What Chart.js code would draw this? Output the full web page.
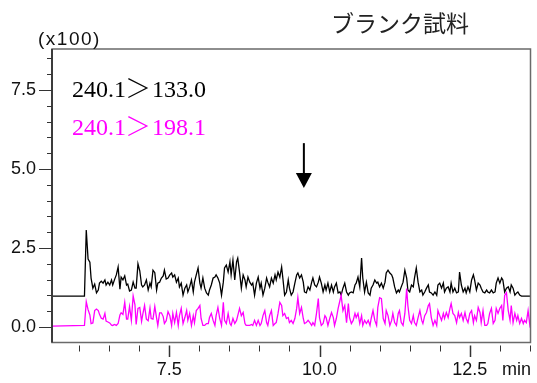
<!DOCTYPE html>
<html>
<head>
<meta charset="utf-8">
<script src="https://cdn.jsdelivr.net/npm/chart.js@4/dist/chart.umd.min.js"></script>
<style>
  body { margin: 0; background: #fff; }
  canvas { display: block; }
</style>
</head>
<body>
<canvas id="myChart" width="537" height="383"></canvas>
<script>
// retention time (min), one scan every ~1.66 s
let retentionTimes = [5.55,
  6.09,6.12,6.15,6.18,6.20,6.23,6.26,6.29,6.32,6.34,6.37,6.40,6.43,6.45,6.48,6.51,6.54,6.56,6.59,6.62,6.65,6.68,6.70,6.73,6.76,6.79,6.81,6.84,6.87,6.90,6.93,6.95,6.98,7.01,7.04,7.06,
  7.09,7.12,7.15,7.18,7.20,7.23,7.26,7.29,7.31,7.34,7.37,7.40,7.42,7.45,7.48,7.51,7.54,7.56,7.59,7.62,7.65,7.67,7.70,7.73,7.76,7.79,7.81,7.84,7.87,7.90,7.92,7.95,7.98,8.01,8.03,8.06,
  8.09,8.12,8.15,8.17,8.20,8.23,8.26,8.28,8.31,8.34,8.37,8.40,8.42,8.45,8.48,8.51,8.53,8.56,8.59,8.62,8.64,8.67,8.70,8.73,8.76,8.78,8.81,8.84,8.87,8.89,8.92,8.95,8.98,9.01,9.03,9.06,
  9.09,9.12,9.14,9.17,9.20,9.23,9.26,9.28,9.31,9.34,9.37,9.39,9.42,9.45,9.48,9.50,9.53,9.56,9.59,9.62,9.64,9.67,9.70,9.73,9.75,9.78,9.81,9.84,9.87,9.89,9.92,9.95,9.98,10.00,10.03,10.06,
  10.09,10.11,10.14,10.17,10.20,10.23,10.25,10.28,10.31,10.34,10.36,10.39,10.42,10.45,10.48,10.50,10.53,10.56,10.59,10.61,10.64,10.67,10.70,10.72,10.75,10.78,10.81,10.84,10.86,10.89,10.92,10.95,10.97,11.00,11.03,11.06,
  11.09,11.11,11.14,11.17,11.20,11.22,11.25,11.28,11.31,11.33,11.36,11.39,11.42,11.45,11.47,11.50,11.53,11.56,11.58,11.61,11.64,11.67,11.70,11.72,11.75,11.78,11.81,11.83,11.86,11.89,11.92,11.95,11.97,12.00,12.03,12.06,
  12.08,12.11,12.14,12.17,12.19,12.22,12.25,12.28,12.31,12.33,12.36,12.39,12.42,12.44,12.47,12.50,12.53,12.56,12.58,12.61,12.64,12.67,12.69,12.72,12.75,12.78,12.80,12.83,12.86,12.89,12.92,12.94,12.97,13.00,13.03,13.05,
  13.08,13.11,13.14,13.17,13.19,13.22,13.25,13.28,13.30,13.33,13.36,13.39,13.41,13.44,13.47,13.50,13.53];

// 240.1>133.0 (black), intensity x100
let trace133 = [0.98,
  0.98,3.07,2.15,2.05,1.55,1.23,1.36,1.08,1.17,1.39,1.45,1.39,1.49,1.33,1.42,1.33,1.49,1.33,1.50,1.65,1.90,1.20,1.58,1.49,1.62,1.33,1.36,1.14,1.17,1.42,1.23,1.23,2.00,1.78,1.33,1.27,1.33,1.49,1.17,1.39,1.27,1.80,1.72,1.17,1.39,1.42,1.55,1.62,1.80,1.52,
  1.55,1.65,1.71,1.58,1.65,1.42,1.55,1.27,1.39,1.01,1.23,1.33,1.11,1.27,1.49,1.11,1.42,1.65,1.87,1.39,1.23,1.55,1.23,1.08,1.01,1.17,1.33,1.55,1.58,1.65,1.55,1.39,1.01,1.42,1.87,1.96,1.74,2.06,1.65,2.12,1.49,2.06,2.18,1.74,1.23,1.65,1.49,1.27,1.58,1.42,1.33,1.39,1.01,1.39,
  1.58,1.23,1.39,1.01,1.23,1.55,1.42,1.27,1.55,1.39,1.65,1.49,1.74,1.58,1.90,1.55,1.01,1.11,1.49,1.23,1.01,1.11,1.39,1.65,1.71,1.55,1.65,1.42,1.11,1.08,1.27,1.17,1.42,1.55,1.33,1.27,1.42,1.58,1.39,1.11,1.33,1.17,1.39,1.11,1.33,1.11,1.27,1.39,1.08,1.11,1.01,1.23,1.39,1.11,
  1.01,1.08,1.11,1.08,1.33,1.39,1.58,1.27,2.18,1.55,1.11,1.42,1.08,1.01,1.23,1.33,1.49,1.39,1.42,1.27,1.39,1.23,1.42,1.71,1.80,1.71,1.65,1.55,1.27,1.08,1.17,1.11,1.27,1.42,1.80,1.55,1.17,1.11,1.33,1.27,1.55,1.87,1.42,1.11,1.17,1.01,1.11,1.23,1.33,1.11,1.08,1.01,1.11,1.01,
  1.33,1.39,1.23,1.39,1.11,1.23,1.27,1.11,1.39,1.11,1.23,1.08,1.11,1.74,1.33,1.11,1.23,1.08,1.27,1.11,1.49,1.65,1.49,1.17,1.39,1.33,1.23,1.11,1.08,1.17,1.11,1.08,1.17,1.08,1.11,1.39,1.55,1.39,1.55,1.49,1.11,1.23,1.27,1.11,1.33,1.23,1.01,1.08,1.11,1.01,0.98,0.98,0.98,0.98,0.98,0.98,0.98];

// 240.1>198.1 (magenta), intensity x100
let trace198 = [0.03,
  0.05,0.80,0.55,0.38,0.11,0.13,0.52,0.57,0.52,0.40,0.28,0.25,0.43,0.19,0.16,0.13,0.06,0.05,0.08,0.05,0.11,0.38,0.45,0.40,0.78,0.25,0.25,0.65,0.21,0.98,0.70,0.08,0.59,0.62,0.18,0.40,0.68,0.25,0.20,0.60,0.27,0.25,0.65,0.28,0.05,0.45,0.45,0.33,0.11,0.20,
  0.49,0.36,0.05,0.43,0.14,0.46,0.05,0.36,0.59,0.11,0.30,0.52,0.21,0.43,0.05,0.36,0.14,0.52,0.59,0.68,0.27,0.05,0.05,0.11,0.11,0.30,0.43,0.21,0.05,0.36,0.62,0.27,0.05,0.78,0.21,0.11,0.43,0.11,0.05,0.27,0.11,0.21,0.36,0.59,0.36,0.46,0.11,0.05,0.05,0.05,0.08,0.05,0.21,0.05,
  0.21,0.05,0.11,0.36,0.52,0.14,0.05,0.36,0.52,0.05,0.11,0.14,0.43,0.78,0.68,0.36,0.43,0.27,0.30,0.14,0.21,0.11,0.27,0.59,0.93,0.43,0.62,0.27,0.11,0.14,0.21,0.14,0.05,0.14,0.05,0.43,0.90,0.30,0.05,0.11,0.36,0.30,0.05,0.27,0.46,0.30,0.05,0.27,0.59,0.84,1.00,0.52,0.68,0.14,
  0.74,0.30,0.11,0.21,0.43,0.30,0.43,0.11,0.36,0.05,0.21,0.11,0.21,0.05,0.27,0.52,0.21,0.05,0.62,0.93,0.90,0.27,0.11,0.52,0.36,0.05,0.21,0.43,0.14,0.05,0.43,0.52,0.14,0.05,0.43,1.22,0.68,0.21,0.11,0.36,0.14,0.05,0.30,0.52,0.21,0.11,0.36,0.46,0.68,0.74,0.30,0.05,0.21,0.05,
  0.52,0.36,0.21,0.43,0.27,0.46,0.30,0.59,0.74,0.43,0.36,0.14,0.46,0.30,0.43,0.21,0.46,0.27,0.14,0.43,0.52,0.14,0.36,0.21,0.62,0.46,0.14,0.52,0.05,0.05,0.11,0.43,0.59,0.11,0.21,0.59,0.43,0.59,0.68,0.21,1.00,1.09,0.52,0.21,0.68,0.14,0.43,0.21,0.36,0.11,0.27,0.11,0.21,0.14,0.52,0.05,0.21];

let xMajorTicks = [7.5, 10.0, 12.5];
let yMajorTicks = [0.0, 2.5, 5.0, 7.5];
let ionLabels = [['240.1', '＞', '133.0'], ['240.1', '＞', '198.1']];
let ionColors = ['#000000', '#ff00ff'];
let chartTitle = 'ブランク試料';
let arrowTime = 9.74; // marked retention time

function isMajor(list, v) {
  return list.some(m => Math.abs(m - v) < 1e-6);
}

function toPoints(values) {
  let arr = [];
  for (let i = 0; i < retentionTimes.length; i++) {
    arr.push({ x: retentionTimes[i], y: values[i] });
  }
  return arr;
}

// box, tick marks, and the annotations
const decorations = {
  id: 'decorations',
  afterDraw(chart) {
    const { ctx, chartArea: a, scales } = chart;
    const x = scales.x, y = scales.y;
    ctx.save();

    ctx.strokeStyle = '#6a6a6a';
    ctx.lineWidth = 1.5;
    ctx.strokeRect(a.left, a.top, a.right - a.left, a.bottom - a.top);
    ctx.strokeStyle = '#333';
    ctx.lineWidth = 1.8;
    ctx.beginPath();
    ctx.moveTo(a.left, a.top);
    ctx.lineTo(a.left, a.bottom);
    ctx.stroke();

    ctx.strokeStyle = '#333';
    x.ticks.forEach(t => {
      let major = isMajor(xMajorTicks, t.value);
      let px = Math.round(x.getPixelForValue(t.value)) + 0.5;
      ctx.lineWidth = major ? 1.5 : 1;
      ctx.beginPath();
      ctx.moveTo(px, a.bottom + 3);
      ctx.lineTo(px, a.bottom + (major ? 14.5 : 9));
      ctx.stroke();
    });
    y.ticks.forEach(t => {
      let major = isMajor(yMajorTicks, t.value);
      let py = Math.round(y.getPixelForValue(t.value)) + 0.5;
      ctx.lineWidth = 1;
      ctx.beginPath();
      ctx.moveTo(a.left, py);
      ctx.lineTo(a.left - (major ? 13 : 5), py);
      ctx.stroke();
    });

    ctx.fillStyle = '#222';
    ctx.font = '23px "Noto Sans CJK JP", serif';
    ctx.textAlign = 'center';
    ctx.textBaseline = 'middle';
    ctx.fillText(chartTitle, 400, 23);

    ctx.fillStyle = '#111';
    ctx.font = '19px "Liberation Sans", Arial, sans-serif';
    ctx.textAlign = 'left';
    ctx.textBaseline = 'alphabetic';
    ctx.letterSpacing = '1.5px';
    ctx.fillText('(x100)', 38, 45);
    ctx.letterSpacing = '0px';

    ctx.textAlign = 'right';
    ctx.textBaseline = 'middle';
    ctx.font = '18px "Liberation Sans", Arial, sans-serif';
    ctx.fillText('min', 531, 370);

    ctx.textAlign = 'left';
    ctx.textBaseline = 'alphabetic';
    ionLabels.forEach((parts, i) => {
      let base = 97 + i * 38;
      let cx = 72;
      ctx.fillStyle = ionColors[i];
      ctx.font = '24px "Liberation Serif", "Times New Roman", serif';
      ctx.fillText(parts[0], cx, base);
      cx += ctx.measureText(parts[0]).width + 2;
      ctx.font = '300 26px "Noto Sans CJK JP", sans-serif';
      ctx.fillText(parts[1], cx - 3, base + 1);
      cx += 24;
      ctx.font = '24px "Liberation Serif", "Times New Roman", serif';
      ctx.fillText(parts[2], cx, base);
    });

    // arrow
    let ax = x.getPixelForValue(arrowTime);
    let aTop = y.getPixelForValue(5.82);
    let aTip = y.getPixelForValue(4.40);
    ctx.strokeStyle = '#000';
    ctx.fillStyle = '#000';
    ctx.lineWidth = 2;
    ctx.beginPath();
    ctx.moveTo(ax, aTop);
    ctx.lineTo(ax, aTip - 12);
    ctx.stroke();
    ctx.beginPath();
    ctx.moveTo(ax - 8, aTip - 15);
    ctx.lineTo(ax + 8, aTip - 15);
    ctx.lineTo(ax, aTip);
    ctx.closePath();
    ctx.fill();

    ctx.restore();
  }
};

new Chart(document.getElementById('myChart'), {
  type: 'line',
  data: {
    datasets: [
      {
        label: ionLabels[1].join(''),
        data: toPoints(trace198),
        borderColor: ionColors[1],
        borderWidth: 1.3,
        pointRadius: 0,
        tension: 0,
      },
      {
        label: ionLabels[0].join(''),
        data: toPoints(trace133),
        borderColor: ionColors[0],
        borderWidth: 1.3,
        pointRadius: 0,
        tension: 0,
      },
    ],
  },
  options: {
    responsive: false,
    animation: false,
    events: [],
    layout: { padding: { top: 49, right: 6.5, left: 0, bottom: 0 } },
    plugins: { legend: { display: false }, tooltip: { enabled: false } },
    scales: {
      x: {
        type: 'linear',
        min: 5.55,
        max: 13.51,
        border: { display: false },
        grid: { display: false, drawTicks: false },
        ticks: {
          stepSize: 0.5,
          includeBounds: false,
          autoSkip: false,
          maxRotation: 0,
          padding: 17,
          color: '#111',
          font: { family: 'Liberation Sans', size: 18 },
          callback: v => (isMajor(xMajorTicks, v) ? v.toFixed(1) : ''),
        },
        afterFit: s => {
          s.height = 40.5;
          s.paddingLeft = 0;
          s.paddingRight = 0;
        },
      },
      y: {
        min: -0.49,
        max: 8.8,
        border: { display: false },
        grid: { display: false, drawTicks: false },
        ticks: {
          stepSize: 0.5,
          includeBounds: false,
          autoSkip: false,
          padding: 16,
          color: '#111',
          font: { family: 'Liberation Sans', size: 18 },
          callback: v => (isMajor(yMajorTicks, v) ? v.toFixed(1) : ''),
        },
        afterFit: s => {
          s.width = 52;
          s.paddingTop = 0;
          s.paddingBottom = 0;
        },
      },
    },
  },
  plugins: [decorations],
});
</script>
</body>
</html>
